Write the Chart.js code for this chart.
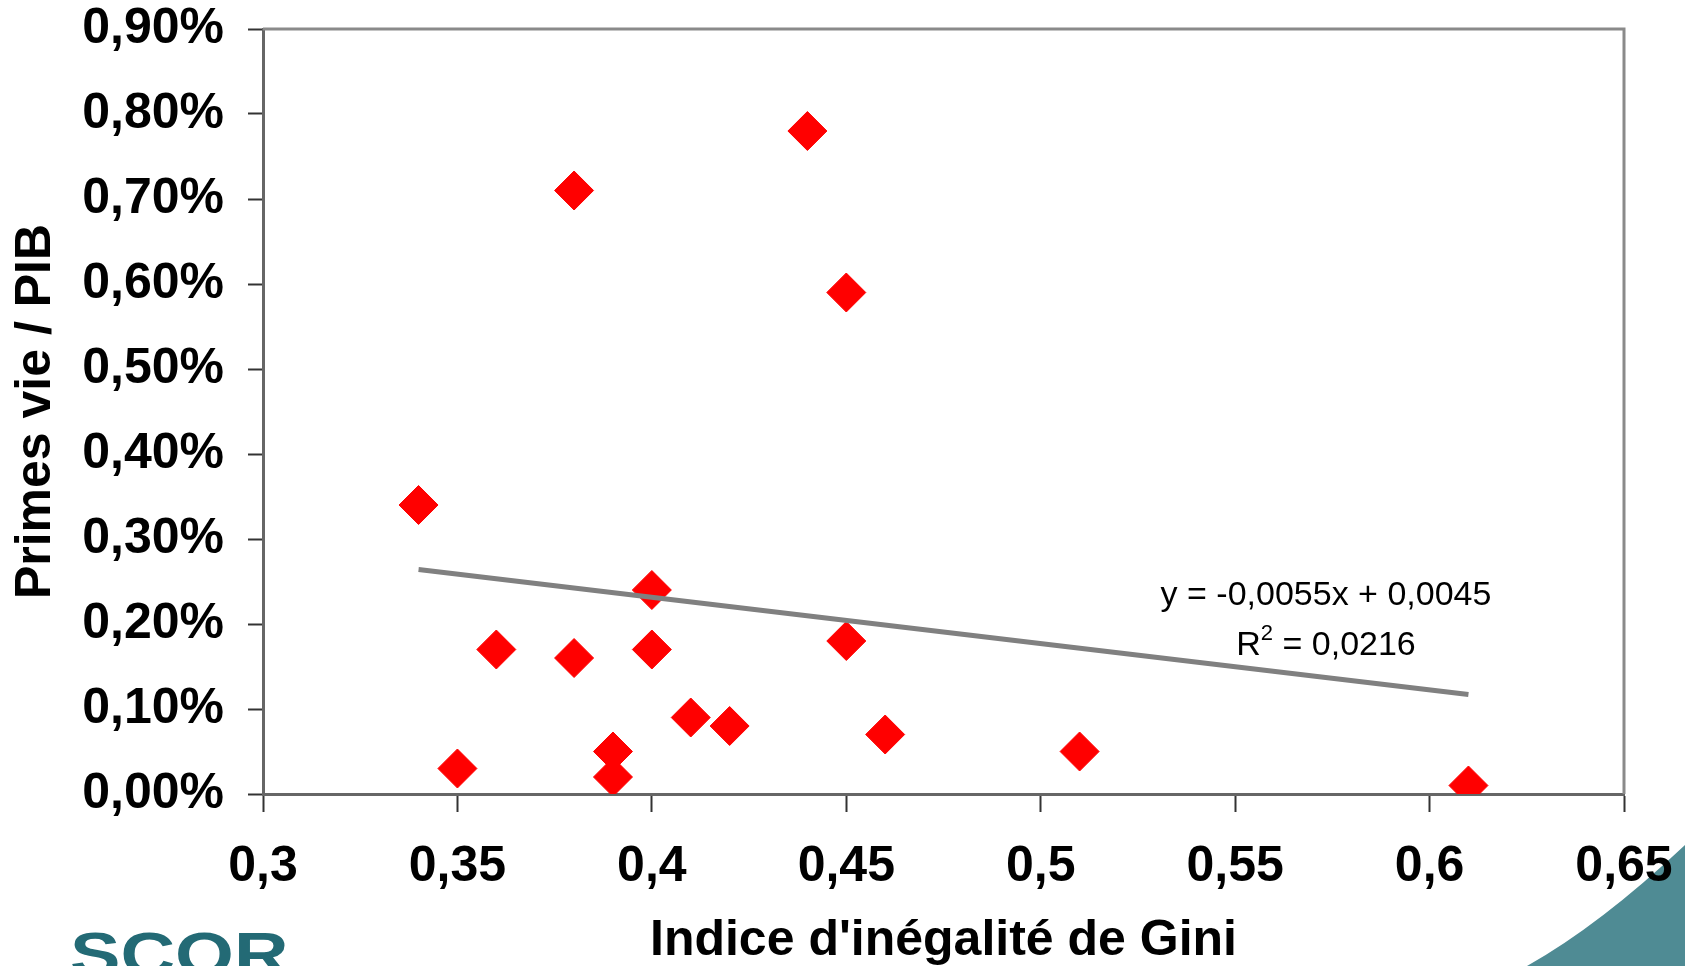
<!DOCTYPE html>
<html lang="fr">
<head>
<meta charset="utf-8">
<title>Primes vie / PIB vs indice de Gini</title>
<script src="https://cdn.jsdelivr.net/npm/chart.js@4.4.1/dist/chart.umd.min.js"></script>
<style>
    html, body { margin: 0; padding: 0; background: #ffffff; }
    #wrap { width: 1685px; height: 966px; position: relative; }
</style>
</head>
<body>
<div id="wrap"><canvas id="giniChart" width="1685" height="966"></canvas></div>
<script>
// Indice de Gini (x) et primes vie / PIB en % (y)
const giniValues = [0.34, 0.35, 0.36, 0.38, 0.38, 0.39, 0.39, 0.40, 0.40, 0.41, 0.42, 0.44, 0.45, 0.45, 0.46, 0.51, 0.61];
const primesValues = [0.34, 0.03, 0.17, 0.71, 0.16, 0.05, 0.02, 0.24, 0.17, 0.09, 0.08, 0.78, 0.59, 0.18, 0.07, 0.05, 0.01];

// courbe de tendance (extrémités)
const trendX = [0.34, 0.61];
const trendY = [0.264, 0.117];
const trendLabel = ['y = -0,0055x + 0,0045', '0,0216'];

const xTicks = [0.3, 0.35, 0.4, 0.45, 0.5, 0.55, 0.6, 0.65];
const yTicks = [0, 0.1, 0.2, 0.3, 0.4, 0.5, 0.6, 0.7, 0.8, 0.9];

document.addEventListener('DOMContentLoaded', () => {
    const ctx = document.getElementById('giniChart').getContext('2d');

    const fmt = (v, d) => v.toFixed(d).replace('.', ',');
    const decimals = (v) => {
        const s = v.toString().split('.');
        return s[1] ? s[1].length : 0;
    };

    // fond : logo SCOR + vague bleu-vert en bas à droite
    const decoPlugin = {
        id: 'deco',
        beforeDraw(chart) {
            const c = chart.ctx;
            c.save();
            c.fillStyle = '#4f8b94';
            c.beginPath();
            c.moveTo(1527, 966);
            c.quadraticCurveTo(1600, 925, 1685, 845);
            c.lineTo(1685, 966);
            c.closePath();
            c.fill();

            c.fillStyle = '#236a75';
            c.font = 'bold 62px "Liberation Sans", Arial, sans-serif';
            c.textBaseline = 'alphabetic';
            c.translate(70, 975);
            c.scale(1.22, 1);
            c.fillText('SCOR', 0, 0);
            c.restore();
        },
        beforeDatasetsDraw(chart) {
            const a = chart.chartArea;
            const c = chart.ctx;
            c.save();
            c.strokeStyle = '#8a8a8a';
            c.lineWidth = 3;
            c.beginPath();
            c.moveTo(a.left, a.top);
            c.lineTo(a.right, a.top);
            c.lineTo(a.right, a.bottom);
            c.stroke();
            c.restore();
        },
        afterDatasetsDraw(chart) {
            const c = chart.ctx;
            c.save();
            c.fillStyle = '#000000';
            c.font = '34px "Liberation Sans", Arial, sans-serif';
            c.textAlign = 'center';
            c.textBaseline = 'middle';
            c.fillText(trendLabel[0], 1326, 596);

            // R² = ...
            const main = ' = ' + trendLabel[1];
            const wR = c.measureText('R').width;
            c.font = '22px "Liberation Sans", Arial, sans-serif';
            const w2 = c.measureText('2').width;
            c.font = '34px "Liberation Sans", Arial, sans-serif';
            const wMain = c.measureText(main).width;
            let x = 1326 - (wR + w2 + wMain) / 2;
            c.textAlign = 'left';
            c.fillText('R', x, 646);
            x += wR;
            c.font = '22px "Liberation Sans", Arial, sans-serif';
            c.fillText('2', x, 634);
            x += w2;
            c.font = '34px "Liberation Sans", Arial, sans-serif';
            c.fillText(main, x, 646);
            c.restore();
        }
    };

    const points = giniValues.map((g, i) => ({ x: g, y: primesValues[i] }));
    const trend = trendX.map((g, i) => ({ x: g, y: trendY[i] }));

    const tickFont = { family: '"Liberation Sans", Arial, sans-serif', size: 50, weight: 'bold' };

    new Chart(ctx, {
        type: 'scatter',
        data: {
            datasets: [
                {
                    label: 'Tendance',
                    data: trend,
                    showLine: true,
                    borderColor: '#808080',
                    borderWidth: 5,
                    pointRadius: 0,
                    pointHoverRadius: 0,
                    fill: false
                },
                {
                    label: 'Pays',
                    data: points,
                    pointStyle: 'rectRot',
                    pointRadius: 19.5,
                    pointHoverRadius: 19.5,
                    backgroundColor: '#ff0000',
                    borderColor: '#ff0000',
                    borderWidth: 1
                }
            ]
        },
        options: {
            responsive: false,
            animation: false,
            layout: { padding: { top: 29, right: 61, left: 0, bottom: 0 } },
            plugins: {
                legend: { display: false },
                tooltip: { enabled: false }
            },
            scales: {
                x: {
                    type: 'linear',
                    min: 0.3,
                    max: 0.65,
                    afterBuildTicks: (scale) => { scale.ticks = xTicks.map(v => ({ value: v })); },
                    afterFit: (scale) => {
                        scale.height = 172;
                        scale.paddingLeft = 0;
                        scale.paddingRight = 0;
                    },
                    border: { display: true, color: '#666666', width: 3 },
                    grid: { drawOnChartArea: false, drawTicks: true, tickLength: 18, tickColor: '#333333', tickWidth: 2 },
                    ticks: {
                        color: '#000000',
                        font: tickFont,
                        padding: 25,
                        maxRotation: 0,
                        callback: (v) => fmt(v, decimals(v))
                    },
                    title: {
                        display: true,
                        text: "Indice d'inégalité de Gini",
                        color: '#000000',
                        font: { family: '"Liberation Sans", Arial, sans-serif', size: 50, weight: 'bold', lineHeight: 1.0 },
                        padding: { top: 0, bottom: 0 }
                    }
                },
                y: {
                    type: 'linear',
                    min: 0,
                    max: 0.9,
                    afterBuildTicks: (scale) => { scale.ticks = yTicks.map(v => ({ value: v })); },
                    afterFit: (scale) => {
                        scale.width = 263;
                        scale.paddingTop = 0;
                        scale.paddingBottom = 0;
                    },
                    border: { display: true, color: '#666666', width: 3 },
                    grid: { drawOnChartArea: false, drawTicks: true, tickLength: 15, tickColor: '#333333', tickWidth: 2 },
                    ticks: {
                        color: '#000000',
                        font: tickFont,
                        padding: 24,
                        callback: (v) => fmt(v, 2) + '%'
                    },
                    title: {
                        display: true,
                        text: 'Primes vie / PIB',
                        color: '#000000',
                        font: { family: '"Liberation Sans", Arial, sans-serif', size: 50, weight: 'bold', lineHeight: 1.2 },
                        padding: { top: 6, bottom: 0 }
                    }
                }
            }
        },
        plugins: [decoPlugin]
    });
});
</script>
</body>
</html>
